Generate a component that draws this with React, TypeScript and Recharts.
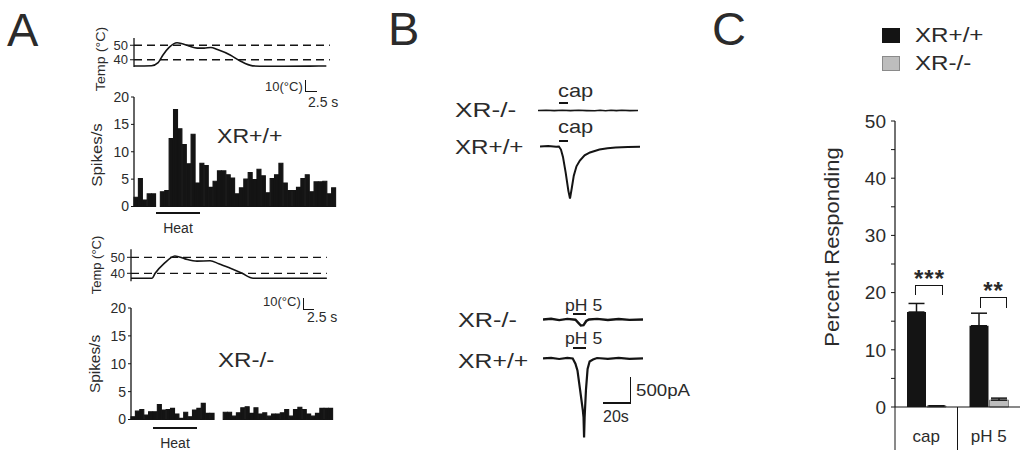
import React from 'react';
import { BarChart, Bar, LineChart, Line, XAxis, YAxis, ReferenceLine, ErrorBar, Legend } from 'recharts';

const FONT = '"Liberation Sans", Arial, Helvetica, sans-serif';
const INK = '#141414';
const TEXT = '#2b2b2b';
const GREY = '#bdbdbd';

// ---- panel A: firing rate, 1 s bins
const wtSpikes = [1.7, 5.1, 1.2, 2.3, 2.3, 0, 2.7, 2.9, 12.4, 17.7, 14.2, 11.3, 7.8, 13.2, 4.3, 7.9, 7.5, 3.5, 4.6, 6.5, 6.5, 5.8, 5.2, 2.3, 3.4, 5, 6.2, 4.9, 6.8, 5.6, 2.5, 5.1, 5.8, 7.9, 4.3, 2.9, 2.9, 3.5, 5.1, 5.8, 2.7, 4.5, 4.5, 4.6, 2.3, 3.4];
const koSpikes = [0.5, 1.5, 1.8, 0.8, 1.4, 1.4, 2.7, 1.7, 1.8, 2, 1, 0.2, 1.3, 0.5, 1.7, 2, 2.9, 1.1, 1.1, 0, 0, 1.3, 1.3, 0.6, 1.2, 2.1, 2.3, 1.1, 2.1, 1, 1.2, 0.6, 1, 1, 1.2, 1.8, 0.6, 1.8, 2.2, 1.8, 1, 0.6, 1.1, 2, 2, 2];
const spikeTicks = [0, 5, 10, 15, 20];
const heatWindow = [5, 15]; // s

// temperature ramps (s, °C)
const tempWtTime = [0, 4, 5.5, 6.6, 8, 9.8, 11, 12.5, 14.4, 16, 17.5, 19, 21.9, 24.1, 27, 30, 40, 43.8];
const tempWtDeg = [35.7, 35.9, 38, 43.3, 48.5, 51.7, 51, 49.5, 48, 48, 48.5, 47, 43.3, 39.3, 35.8, 35.5, 35.6, 35.7];
const tempKoTime = [0, 4.8, 5.5, 7.5, 10, 12.3, 15, 18, 20, 22.5, 25.3, 27.8, 35, 44.6];
const tempKoDeg = [36.9, 36.9, 40, 46, 50.8, 49, 47.6, 47.8, 46, 43.3, 40, 36.9, 36.9, 36.9];
const tempTicks = [40, 50];

// ---- panel B: whole-cell currents (s, pA)
const capKoT = [0, 6, 12, 18, 24, 30, 36, 42, 46, 50, 54, 58, 62, 68, 74];
const capKoI = [0, 4, -3, 3, -4, 3, -3, -6, 5, -6, 5, -4, 3, -3, 0];
const capWtT = [0, 6, 12, 14, 15.5, 17, 19, 21, 22.2, 23.5, 25, 27, 29.5, 33, 37, 44, 50, 56, 65, 74];
const capWtI = [0, 8, -6, 0, -60, -200, -500, -850, -1000, -800, -560, -380, -270, -170, -115, -60, -35, -20, -10, -5];
const phKoT = [0, 6, 12, 18, 24, 26, 28, 30, 32, 34, 40, 48, 56, 64, 74];
const phKoI = [0, 12, -12, 10, -6, -60, -115, -110, -30, 0, 10, -10, 8, -8, 0];
const phWtT = [0, 6, 12, 18, 22, 24, 25.5, 27.5, 29.5, 30, 30.4, 30.8, 31.8, 33, 34.5, 37, 40, 48, 56, 64, 74];
const phWtI = [0, 12, -10, 10, 0, -100, -230, -610, -1000, -1130, -1515, -1130, -600, -200, -60, -20, 8, -8, 10, -10, 0];
const capApplied = [14, 21];
const phApplied = [22, 32];

// ---- panel C: percent responding
const categories = ['cap', 'pH 5'];
const wtPct = [16.6, 14.2];
const wtSem = [1.5, 2.2];
const koPct = [0.2, 1.2];
const koSem = [0, 0.35];
const pctTicks = [0, 5, 10, 15, 20, 25, 30, 35, 40, 45, 50];

const BIN_W = 202 / wtSpikes.length;
const TRACE_W = 100;

function Txt({ x, cy, size, sx = 1, anchor = 'start', weight = 400, ls = 0, children }: any) {
  const shift = anchor === 'middle' ? '-50%' : anchor === 'end' ? '-100%' : '0';
  const origin = anchor === 'middle' ? 'center' : anchor === 'end' ? 'right' : 'left';
  return (
    <div style={{
      position: 'absolute', left: x, top: cy - size / 2, fontSize: size, fontWeight: weight, lineHeight: 1,
      whiteSpace: 'nowrap', letterSpacing: ls, transform: `translateX(${shift}) scaleX(${sx})`, transformOrigin: `${origin} center`,
    }}>{children}</div>
  );
}

function VTxt({ cx, cy, size, sx = 1, children }: any) {
  return (
    <div style={{
      position: 'absolute', left: cx, top: cy, fontSize: size, lineHeight: 1, whiteSpace: 'nowrap',
      transform: `translate(-50%, -50%) rotate(-90deg) scaleX(${sx})`,
    }}>{children}</div>
  );
}

const Rule = ({ left, top, width, height }: any) => (
  <div style={{ position: 'absolute', left, top, width, height, background: INK }} />
);

function SpikeHist({ values, left, top, height, mt, mb }: any) {
  const data = values.map((v: number, i: number) => ({ bin: i, rate: v }));
  return (
    <div style={{ position: 'absolute', left, top }}>
      <BarChart width={244} height={height} data={data} margin={{ top: mt, right: 2, bottom: mb, left: 0 }} barCategoryGap={0} barGap={0}>
        <XAxis dataKey="bin" hide />
        <YAxis domain={[0, 20]} ticks={spikeTicks} interval={0} width={40}
          axisLine={{ stroke: INK, strokeWidth: 1.3 }} tickLine={{ stroke: INK }} tickSize={3} tickMargin={2}
          tick={{ fontSize: 14, fill: TEXT, fontFamily: FONT }} />
        <Bar dataKey="rate" fill={INK} stroke={INK} strokeWidth={1.1} isAnimationActive={false} />
      </BarChart>
    </div>
  );
}

function TempTrace({ time, deg, left, top, height, mt, mb, dashEnd }: any) {
  const data = time.map((t: number, i: number) => ({ t, deg: deg[i] }));
  return (
    <div style={{ position: 'absolute', left, top }}>
      <LineChart width={244} height={height} data={data} margin={{ top: mt, right: 2, bottom: mb, left: 0 }}>
        <XAxis type="number" dataKey="t" domain={[0, 46]} hide />
        <YAxis domain={[35, 55]} ticks={tempTicks} interval={0} width={40}
          axisLine={{ stroke: INK, strokeWidth: 1.3 }} tickLine={{ stroke: INK }} tickSize={4} tickMargin={2}
          tick={{ fontSize: 13, fill: TEXT, fontFamily: FONT }} />
        {tempTicks.map((v) => (
          <ReferenceLine key={v} segment={[{ x: 0, y: v }, { x: dashEnd, y: v }]} stroke={INK} strokeWidth={1.3} strokeDasharray="8 5" />
        ))}
        <Line dataKey="deg" type="monotone" stroke={INK} strokeWidth={1.6} dot={false} isAnimationActive={false} />
      </LineChart>
    </div>
  );
}

function CurrentTrace({ time, pA, left, baseline, sw }: any) {
  const data = time.map((t: number, i: number) => ({ t, pA: pA[i] }));
  // y domain [-1600, 200] over 94 px -> baseline sits 10.44 px below the top
  return (
    <div style={{ position: 'absolute', left, top: baseline - 10.44 }}>
      <LineChart width={TRACE_W} height={94} data={data} margin={{ top: 0, right: 0, bottom: 0, left: 0 }}>
        <XAxis type="number" dataKey="t" domain={[0, 74]} hide />
        <YAxis domain={[-1600, 200]} hide />
        <Line dataKey="pA" type="linear" stroke={INK} strokeWidth={sw} dot={false} isAnimationActive={false} />
      </LineChart>
    </div>
  );
}

// category label plus a separator line on the left edge of each band
const CatTick = ({ x, y, payload, width, visibleTicksCount }: any) => {
  const half = payload && payload.offset ? payload.offset : width / (visibleTicksCount || 2) / 2;
  return (
    <g>
      <line x1={x - half} y1={y} x2={x - half} y2={y + 43} stroke={INK} strokeWidth={1} />
      <text x={x} y={y + 35} textAnchor="middle" fontSize={17} fill={TEXT} fontFamily={FONT}>{payload.value}</text>
    </g>
  );
};

const LegendBox = ({ payload }: any) => (
  <div style={{ fontFamily: FONT, color: TEXT }}>
    {(payload || []).map((p: any) => (
      <div key={p.value} style={{ display: 'flex', alignItems: 'center', height: 28 }}>
        <span style={{
          display: 'inline-block', width: 18, height: 15, boxSizing: 'border-box',
          background: p.value === 'XR+/+' ? INK : GREY, border: `1px solid ${p.value === 'XR+/+' ? INK : '#8a8a8a'}`,
        }} />
        <span style={{ marginLeft: 15, fontSize: 21, display: 'inline-block', transform: 'scaleX(1.15)', transformOrigin: 'left center' }}>{p.value}</span>
      </div>
    ))}
  </div>
);

function PercentChart() {
  const data = categories.map((c, i) => ({
    cat: c, wt: wtPct[i], wtErr: [0, wtSem[i]], ko: koPct[i], koErr: [0, koSem[i]],
  }));
  return (
    <div style={{ position: 'absolute', left: 780, top: 0 }}>
      <BarChart width={244} height={469} data={data} margin={{ top: 121, right: 4, bottom: 0, left: 0 }} barCategoryGap={11.75} barGap={1}>
        <XAxis dataKey="cat" height={62} axisLine={{ stroke: INK, strokeWidth: 1.2 }} tickLine={false} tickSize={0} tickMargin={0} interval={0} tick={<CatTick />} />
        <YAxis domain={[0, 50]} ticks={pctTicks} interval={0} width={115}
          tickFormatter={(v: number) => (v % 10 === 0 ? String(v) : '')}
          axisLine={{ stroke: INK, strokeWidth: 1.2 }} tickLine={{ stroke: INK }} tickSize={4} tickMargin={5}
          tick={{ fontSize: 19, fill: TEXT, fontFamily: FONT }} />
        <Bar dataKey="wt" name="XR+/+" fill={INK} barSize={19} isAnimationActive={false}>
          <ErrorBar dataKey="wtErr" width={8} stroke={INK} strokeWidth={1.5} />
        </Bar>
        <Bar dataKey="ko" name="XR-/-" fill={GREY} stroke="#6b6b6b" strokeWidth={0.8} barSize={19} isAnimationActive={false}>
          <ErrorBar dataKey="koErr" width={8} stroke={INK} strokeWidth={1.5} />
        </Bar>
        <Legend layout="vertical" align="center" verticalAlign="middle" content={<LegendBox />}
          wrapperStyle={{ left: 102, top: 21, width: 130 }} />
      </BarChart>
    </div>
  );
}

export default function App() {
  const tx = (left: number, t: number) => left + (t * TRACE_W) / 74;
  return (
    <div style={{ position: 'absolute', left: 0, top: 0, width: 1024, height: 469, background: '#fff', overflow: 'hidden', fontFamily: FONT, color: TEXT }}>
      {/* panel letters */}
      <Txt x={7} cy={29.5} size={47}>A</Txt>
      <Txt x={388} cy={28} size={47}>B</Txt>
      <Txt x={712} cy={28.5} size={47}>C</Txt>

      {/* A, XR+/+ */}
      <VTxt cx={100} cy={58.5} size={13} sx={1.1}>Temp (°C)</VTxt>
      <TempTrace time={tempWtTime} deg={tempWtDeg} left={94} top={35} height={34} mt={3} mb={2} dashEnd={44.6} />
      <Txt x={265} cy={86} size={13}>10(°C)</Txt>
      <Rule left={304.5} top={80} width={1.5} height={12} />
      <Rule left={304.5} top={90.5} width={12} height={1.5} />
      <Txt x={308} cy={102} size={14}>2.5 s</Txt>
      <VTxt cx={97} cy={155} size={14} sx={1.2}>Spikes/s</VTxt>
      <SpikeHist values={wtSpikes} left={94} top={89} height={126.5} mt={8} mb={9} />
      <Txt x={217} cy={135.5} size={21} sx={1.1}>XR+/+</Txt>
      <Rule left={134 + heatWindow[0] * BIN_W} top={212} width={(heatWindow[1] - heatWindow[0]) * BIN_W} height={2} />
      <Txt x={178} cy={227.5} size={14} anchor="middle">Heat</Txt>

      {/* A, XR-/- */}
      <VTxt cx={96} cy={265} size={13}>Temp (°C)</VTxt>
      <TempTrace time={tempKoTime} deg={tempKoDeg} left={91} top={245} height={39} mt={4.3} mb={2.7} dashEnd={44.6} />
      <Txt x={263} cy={301.5} size={13}>10(°C)</Txt>
      <Rule left={302.5} top={298} width={1.5} height={12} />
      <Rule left={302.5} top={308.5} width={11} height={1.5} />
      <Txt x={307} cy={317} size={14}>2.5 s</Txt>
      <VTxt cx={95} cy={364} size={14} sx={1.1}>Spikes/s</VTxt>
      <SpikeHist values={koSpikes} left={91} top={298} height={132} mt={10} mb={10.5} />
      <Txt x={218} cy={359} size={21} sx={1.15}>XR-/-</Txt>
      <Rule left={131 + heatWindow[0] * BIN_W} top={427} width={(heatWindow[1] - heatWindow[0]) * BIN_W} height={2} />
      <Txt x={175} cy={442.5} size={14} anchor="middle">Heat</Txt>

      {/* B, capsaicin */}
      <Txt x={455} cy={109.5} size={21} sx={1.25}>XR-/-</Txt>
      <Txt x={455} cy={146.5} size={21} sx={1.15}>XR+/+</Txt>
      <Txt x={558} cy={90.7} size={19} sx={1.15}>cap</Txt>
      <Txt x={558} cy={126.7} size={19} sx={1.15}>cap</Txt>
      <Rule left={tx(540, capApplied[0])} top={102} width={tx(540, capApplied[1]) - tx(540, capApplied[0])} height={2} />
      <Rule left={tx(540, capApplied[0])} top={139.5} width={tx(540, capApplied[1]) - tx(540, capApplied[0])} height={2} />
      <CurrentTrace time={capKoT} pA={capKoI} left={538} baseline={110.7} sw={1.6} />
      <CurrentTrace time={capWtT} pA={capWtI} left={540} baseline={146} sw={2} />

      {/* B, pH 5 */}
      <Txt x={458} cy={319.5} size={21} sx={1.2}>XR-/-</Txt>
      <Txt x={458} cy={360.5} size={21} sx={1.18}>XR+/+</Txt>
      <Txt x={565} cy={305.5} size={16} sx={1.1}>pH 5</Txt>
      <Txt x={565} cy={339} size={16} sx={1.1}>pH 5</Txt>
      <Rule left={tx(543, phApplied[0])} top={313} width={tx(543, phApplied[1]) - tx(543, phApplied[0])} height={2} />
      <Rule left={tx(543, phApplied[0])} top={347} width={tx(543, phApplied[1]) - tx(543, phApplied[0])} height={2} />
      <CurrentTrace time={phKoT} pA={phKoI} left={543} baseline={319} sw={2.4} />
      <CurrentTrace time={phWtT} pA={phWtI} left={543} baseline={358} sw={2.2} />
      <Rule left={629.5} top={377} width={1.5} height={26.5} />
      <Rule left={603} top={402} width={28} height={1.5} />
      <Txt x={636} cy={390} size={17} sx={1.1}>500pA</Txt>
      <Txt x={603} cy={416.5} size={16}>20s</Txt>

      {/* C */}
      <PercentChart />
      <VTxt cx={832} cy={247} size={20} sx={1.1}>Percent Responding</VTxt>
      <div style={{ position: 'absolute', left: 915, top: 285, width: 28, height: 10, borderTop: `1.5px solid ${INK}`, borderLeft: `1.5px solid ${INK}`, borderRight: `1.5px solid ${INK}`, boxSizing: 'border-box' }} />
      <div style={{ position: 'absolute', left: 980, top: 297, width: 27, height: 11, borderTop: `1.5px solid ${INK}`, borderLeft: `1.5px solid ${INK}`, borderRight: `1.5px solid ${INK}`, boxSizing: 'border-box' }} />
      <Txt x={929.5} cy={278.6} size={24} weight={700} anchor="middle" ls={1}>***</Txt>
      <Txt x={993.5} cy={290.6} size={24} weight={700} anchor="middle" ls={1}>**</Txt>
    </div>
  );
}
